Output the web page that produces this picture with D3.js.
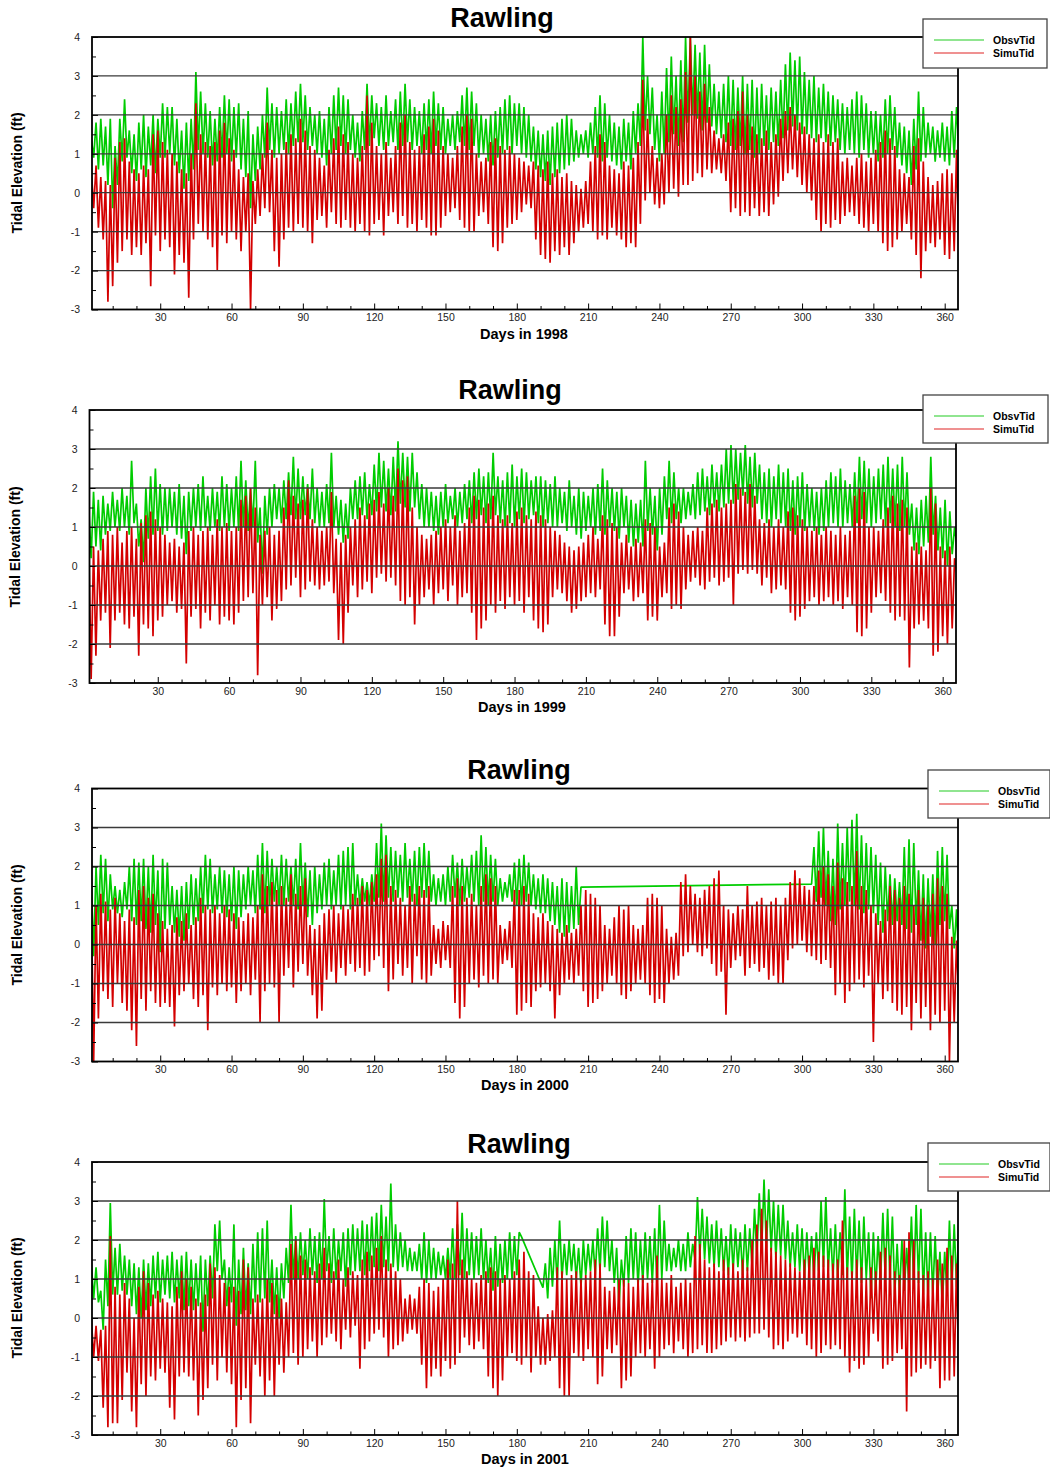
<!DOCTYPE html>
<html>
<head>
<meta charset="utf-8">
<script src="https://cdn.jsdelivr.net/npm/d3@7"></script>
<style>
  body { margin: 0; background: #fff; }
  svg { display: block; }
  text { font-family: "Liberation Sans", Arial, Helvetica, sans-serif; }
</style>
</head>
<body>
<svg id="chart" width="1050" height="1470"></svg>
<script>
// Daily tidal elevation (ft) at Rawling, observed vs simulated.
// Each array holds one reading per day, starting at day 1 unless noted.

const seriesNames = ["ObsvTid", "SimuTid"];
const yTicks = [-3, -2, -1, 0, 1, 2, 3, 4];
const gridValues = [-2, -1, 0, 1, 2, 3];
const xTicks = [30, 60, 90, 120, 150, 180, 210, 240, 270, 300, 330, 360];
const xMinor = [10, 20, 40, 50, 70, 80, 100, 110, 130, 140, 160, 170, 190, 200, 220, 230, 250, 260, 280, 290, 310, 320, 340, 350];
const years = ["1998", "1999", "2000", "2001"];

const obs1998 = [
  1.4,0.9,1.8,0.6,1.9,0.7,1.7,0.2,1.9,-0.4,
  1.2,0.2,1.9,0.8,2.4,0.9,1.6,0.5,1.5,0.3,
  1.8,0.6,2.0,0.4,1.7,0.7,2.0,0.5,1.9,0.9,
  2.3,0.9,2.2,1.0,2.2,0.7,1.9,0.5,1.6,0.1,
  1.8,0.3,1.9,0.6,3.1,1.1,2.6,1.0,2.3,0.9,
  2.1,0.7,1.9,0.8,2.2,0.9,2.5,1.0,2.4,0.8,
  2.2,0.9,2.3,0.6,1.9,0.4,2.1,-0.4,1.5,0.3,
  1.7,0.6,2.0,0.9,2.7,1.1,2.3,0.9,2.2,1.0,
  2.1,1.1,2.4,1.0,2.3,1.2,2.6,1.3,2.8,1.3,
  2.5,1.1,2.2,1.2,2.0,1.0,2.1,0.9,1.9,0.7,
  2.2,1.0,2.5,1.1,2.7,1.2,2.5,1.0,2.4,1.1,
  2.0,0.9,1.8,0.8,2.1,1.1,2.8,1.2,2.5,1.4,
  2.3,1.2,2.2,1.1,2.5,1.2,2.1,1.3,2.4,1.1,
  2.6,1.2,2.8,1.3,2.4,1.1,2.2,1.2,2.1,1.0,
  2.3,1.1,2.4,1.0,2.6,1.2,2.3,1.1,2.2,1.0,
  1.9,1.2,2.0,1.1,2.1,1.3,2.5,1.2,2.7,1.1,
  2.6,1.2,2.3,0.9,2.0,1.0,1.9,0.8,2.0,0.7,
  2.1,0.9,2.2,1.0,2.4,1.1,2.5,1.0,2.3,1.2,
  2.3,1.0,2.2,0.9,2.0,0.8,1.7,0.6,1.6,0.4,
  1.5,0.3,1.6,0.2,1.7,0.4,1.8,0.5,1.9,0.6,
  2.0,0.7,1.9,0.8,1.6,0.9,1.5,1.0,1.6,0.9,
  1.8,1.0,2.2,0.9,2.5,0.8,2.3,0.9,2.0,0.8,
  1.8,0.7,1.7,0.6,1.9,0.8,1.8,0.6,2.1,1.0,
  2.3,1.2,4.0,1.6,3.0,1.5,2.7,1.1,2.0,0.8,
  2.6,1.0,3.2,1.3,3.5,1.5,3.0,1.2,3.4,1.3,
  4.0,1.8,4.0,2.0,3.8,1.9,3.6,1.6,3.8,1.8,
  3.3,1.7,2.8,1.5,2.6,1.4,2.8,1.3,3.0,1.2,
  2.9,1.1,2.7,1.2,3.0,1.0,2.8,1.1,2.9,0.9,
  2.7,1.0,2.8,1.2,2.5,1.1,2.7,1.3,2.6,1.2,
  2.9,1.4,3.3,1.6,3.6,1.7,3.4,1.6,3.5,1.5,
  3.1,1.5,2.9,1.4,3.0,1.3,2.7,1.4,2.8,1.3,
  2.6,1.2,2.5,1.3,2.4,1.1,2.3,1.0,2.2,1.1,
  2.4,1.0,2.6,0.9,2.5,1.1,2.3,0.9,2.1,1.0,
  2.1,0.8,2.0,0.9,2.4,1.0,2.5,1.1,2.2,0.9,
  1.8,0.7,1.7,0.5,1.6,0.2,1.9,0.6,2.6,0.8,
  2.2,0.9,1.8,1.0,1.7,0.8,1.6,0.9,1.8,0.8,
  1.7,0.7,2.1,0.9,2.2,1.1
];

const sim1998 = [
  0.6,-0.4,0.7,-0.9,0.4,-1.2,0.3,-2.8,0.2,-2.4,
  0.9,-1.8,1.3,-1.5,1.4,-1.2,0.8,-1.6,0.6,-1.4,
  0.5,-1.6,0.7,-1.3,0.6,-2.4,1.5,-1.1,1.6,-1.5,
  1.3,-1.2,1.1,-1.4,1.0,-2.1,0.8,-1.6,0.6,-1.8,
  0.5,-2.7,1.0,-1.2,2.3,-0.8,1.5,-1.0,1.3,-1.2,
  1.2,-1.4,1.3,-2.0,1.6,-1.1,1.8,-1.3,1.4,-1.0,
  1.1,-1.2,0.6,-1.5,0.4,-1.0,0.5,-3.0,0.3,-0.8,
  0.6,-0.6,1.0,-0.4,1.8,-0.5,1.1,-1.5,0.9,-1.9,
  1.0,-1.2,1.3,-0.9,1.5,-1.0,1.4,-0.8,1.9,-0.9,
  1.6,-1.0,1.2,-1.3,1.1,-0.7,0.9,-0.6,0.7,-0.9,
  1.1,-0.5,1.4,-0.8,1.7,-0.9,1.5,-0.7,1.3,-0.9,
  1.0,-1.0,0.9,-0.8,1.2,-1.0,2.5,-1.1,1.8,-0.8,
  1.2,-0.7,1.0,-1.1,1.3,-0.6,0.9,-0.5,1.2,-0.8,
  1.8,-0.6,2.0,-0.9,1.3,-0.8,1.1,-1.0,1.2,-0.7,
  1.5,-0.9,1.7,-1.1,1.9,-1.1,1.6,-0.9,1.2,-0.6,
  1.0,-0.5,0.9,-0.4,1.2,-0.7,1.7,-0.9,2.0,-1.0,
  1.9,-1.0,1.0,-0.6,0.8,-0.5,0.9,-0.8,1.3,-1.4,
  1.4,-1.5,1.2,-1.3,1.1,-0.9,1.2,-0.8,1.0,-0.7,
  0.9,-0.5,0.8,-0.3,0.7,-0.4,0.8,-1.2,0.7,-1.6,
  0.6,-1.7,0.8,-1.8,0.5,-1.5,0.6,-1.6,0.4,-1.4,
  0.5,-1.6,0.3,-1.3,0.2,-1.0,0.1,-0.9,0.3,-0.8,
  0.8,-1.0,1.2,-1.2,1.5,-1.1,1.3,-1.2,0.7,-0.9,
  0.6,-1.1,0.5,-1.2,0.8,-1.4,0.7,-1.3,0.9,-1.4,
  1.3,-0.8,2.9,-0.2,1.9,0.0,1.2,-0.3,0.9,-0.4,
  1.0,-0.3,2.0,0.0,2.5,0.1,2.2,-0.1,2.4,0.2,
  3.1,0.2,4.0,0.3,3.0,0.5,2.6,0.4,2.8,0.6,
  2.2,0.5,1.6,0.6,1.4,0.5,1.5,0.3,1.8,-0.5,
  1.9,-0.4,2.1,-0.6,2.6,-0.5,2.0,-0.6,1.7,-0.4,
  1.5,-0.6,1.4,-0.5,1.6,-0.6,1.3,-0.3,1.5,-0.1,
  1.9,0.3,2.1,0.5,2.2,0.6,2.0,0.4,1.8,0.2,
  1.7,0.0,1.5,-0.2,1.4,-0.7,1.5,-1.0,1.3,-0.8,
  1.5,-0.9,1.3,-0.7,1.4,-0.8,0.8,-0.6,0.9,-0.5,
  0.7,-0.6,0.9,-0.8,1.0,-0.9,0.8,-1.0,0.9,-0.8,
  1.1,-1.0,1.3,-1.3,1.6,-1.5,1.4,-1.4,1.2,-1.2,
  0.6,-1.0,0.5,-0.8,0.4,-1.2,1.2,-1.6,1.4,-2.2,
  0.8,-1.5,0.4,-1.3,0.2,-1.4,0.3,-1.2,0.5,-1.6,
  0.6,-1.7,0.5,-1.5,1.1,-1.6
];

const obs1999 = [
  1.5,0.2,1.9,0.5,1.7,0.4,1.8,0.8,1.6,0.9,
  1.9,1.0,1.7,0.9,2.0,1.0,1.8,0.8,2.7,1.1,
  1.6,0.5,1.2,0.1,2.0,0.7,2.3,0.8,2.5,0.9,
  2.1,0.8,2.0,0.9,2.0,1.0,1.9,0.8,2.1,0.7,
  1.8,0.3,1.9,0.9,2.0,1.0,2.1,0.9,2.3,1.0,
  1.8,0.9,2.0,1.0,1.9,0.9,2.3,1.0,2.1,0.9,
  2.0,1.0,2.3,0.9,2.7,1.0,2.2,0.9,2.0,1.0,
  2.7,0.6,1.5,-0.2,1.8,0.8,2.0,1.0,2.1,1.2,
  2.0,1.1,2.2,1.2,2.4,1.3,2.8,1.2,2.5,1.2,
  2.3,1.3,2.1,1.2,2.5,1.1,2.0,1.0,1.9,1.0,
  2.1,1.1,2.9,1.0,1.8,0.8,1.7,0.6,1.6,0.7,
  2.0,1.2,2.2,1.2,2.3,1.3,2.4,1.2,2.1,1.3,
  2.6,1.4,2.9,1.5,2.7,1.4,2.5,1.3,2.8,1.4,
  3.2,1.6,2.9,1.5,2.8,1.4,2.9,1.5,2.4,1.2,
  2.1,1.0,2.0,1.0,1.9,0.9,1.8,0.8,1.9,1.0,
  2.1,1.1,1.8,1.2,2.0,1.0,1.9,1.1,2.1,1.2,
  2.2,1.1,2.4,1.2,2.5,1.3,2.3,1.1,2.4,1.2,
  2.9,1.3,2.3,1.1,2.2,1.0,2.4,1.1,2.6,1.0,
  2.3,1.2,2.5,1.1,2.4,1.2,2.2,1.3,2.3,1.1,
  2.3,1.0,2.2,1.1,2.1,1.0,2.3,1.0,2.0,1.1,
  1.9,0.9,2.2,1.0,1.8,0.8,2.0,0.7,1.9,0.9,
  1.8,1.0,2.0,0.8,2.1,0.9,2.5,0.8,2.2,1.0,
  2.0,0.9,1.9,0.7,2.0,1.0,1.8,0.6,1.7,0.5,
  1.6,0.6,1.7,0.5,2.7,0.9,2.0,0.8,1.8,0.4,
  2.0,0.8,2.3,1.2,2.7,1.1,2.4,1.2,2.0,1.1,
  2.0,1.2,1.9,1.3,2.1,1.2,2.4,1.3,2.5,1.4,
  2.3,1.3,2.6,1.5,2.4,1.4,2.6,1.5,3.0,1.6,
  3.1,1.6,3.0,1.7,2.9,1.8,3.1,1.6,2.8,1.5,
  2.9,1.6,2.6,1.2,2.4,1.1,2.5,1.0,2.3,1.2,
  2.6,1.1,2.4,1.0,2.5,0.9,2.2,0.8,2.3,1.0,
  2.4,0.9,2.1,1.0,2.0,0.9,1.9,0.8,2.0,0.9,
  2.2,1.0,2.4,1.1,2.3,1.0,2.5,1.0,2.2,1.1,
  2.1,1.0,2.4,1.1,2.8,1.2,2.7,1.1,2.5,1.0,
  2.3,1.1,2.5,1.2,2.6,1.0,2.8,1.1,2.5,1.0,
  2.6,0.9,2.8,1.0,2.4,0.8,1.6,0.4,1.5,0.3,
  1.7,0.5,1.8,0.6,2.8,0.8,1.8,0.4,1.5,0.2,
  1.7,0.0,1.4,0.3,1.0,0.5
];

const sim1999 = [
  0.6,-2.9,0.5,-2.3,0.4,-1.4,0.7,-1.2,0.9,-2.1,
  0.8,-1.4,1.0,-1.2,0.6,-1.5,0.9,-1.6,1.0,-1.3,
  0.7,-2.3,1.1,-1.5,1.3,-1.6,1.4,-1.8,1.2,-1.4,
  1.0,-1.3,0.8,-1.0,0.6,-0.9,0.7,-1.2,0.5,-1.1,
  0.6,-2.5,0.9,-1.3,1.0,-1.1,0.8,-1.6,0.9,-1.2,
  1.0,-1.4,0.8,-1.0,1.2,-1.5,1.0,-1.3,1.1,-1.4,
  0.9,-1.5,1.0,-1.2,1.7,-0.9,1.8,-0.8,2.0,-0.7,
  1.5,-2.8,0.8,-1.0,0.9,-0.8,1.0,-1.4,0.8,-1.1,
  0.9,-0.9,1.5,-0.6,2.2,-0.5,1.8,-0.3,1.6,-0.8,
  1.7,-0.6,2.0,-0.4,1.2,-0.5,1.0,-0.6,0.9,-0.5,
  1.0,-0.4,1.9,-0.7,0.7,-1.9,0.6,-2.0,0.8,-1.2,
  1.0,-0.5,1.2,-0.8,1.5,-0.6,1.3,-0.4,1.6,-0.7,
  1.7,-0.3,1.9,-0.2,1.6,-0.4,2.0,-0.3,1.8,-0.5,
  2.5,-0.9,2.2,-1.0,2.3,-0.8,1.5,-1.5,1.0,-1.0,
  0.8,-0.8,0.7,-0.6,0.8,-1.0,0.9,-0.7,1.0,-0.6,
  1.2,-0.9,1.0,-0.5,1.3,-1.0,0.9,-0.8,1.1,-0.7,
  1.5,-1.2,1.8,-1.9,1.7,-1.6,1.5,-1.4,1.6,-1.0,
  1.8,-1.2,1.3,-0.9,1.2,-1.1,1.3,-0.8,1.1,-1.0,
  1.4,-0.9,1.5,-1.2,1.3,-0.8,1.2,-1.4,1.4,-1.6,
  1.3,-1.7,1.2,-1.5,1.0,-0.8,0.9,-0.6,0.8,-0.7,
  0.6,-0.9,0.5,-1.2,0.4,-1.1,0.5,-0.9,0.6,-0.8,
  0.8,-0.7,1.0,-0.8,0.7,-0.6,1.3,-1.5,1.2,-1.8,
  1.1,-1.8,1.0,-1.3,0.6,-0.7,0.8,-0.6,0.5,-0.9,
  0.7,-0.8,0.6,-0.7,1.2,-1.4,1.1,-1.3,1.0,-1.4,
  0.5,-0.8,0.6,-0.7,1.5,-1.1,1.6,-1.0,1.4,-1.1,
  1.0,-0.6,0.8,-0.4,0.9,-0.3,1.0,-0.5,0.9,-0.6,
  1.5,-0.4,1.6,-0.3,1.7,-0.5,1.5,-0.4,1.6,-0.3,
  1.7,-1.0,2.1,-0.2,2.0,-0.1,1.9,-0.2,2.1,-0.1,
  1.8,-0.2,1.2,-0.5,1.1,-0.3,1.2,-0.7,1.0,-0.6,
  1.2,-0.5,1.0,-0.6,1.4,-1.2,1.5,-1.4,1.3,-1.3,
  1.2,-1.1,1.0,-0.9,0.9,-0.8,1.0,-1.0,0.8,-0.9,
  1.0,-0.8,0.9,-1.0,0.8,-0.9,1.0,-1.1,0.8,-0.8,
  0.9,-1.0,1.8,-1.7,2.0,-1.8,1.9,-1.6,1.0,-1.2,
  1.0,-0.8,0.9,-0.7,1.2,-0.9,1.5,-1.2,1.8,-1.4,
  1.6,-1.3,1.7,-1.4,1.5,-2.6,0.5,-1.6,0.6,-1.5,
  0.5,-1.4,0.4,-1.6,2.0,-2.3,1.6,-2.2,0.5,-1.8,
  0.4,-2.0,0.5,-1.6,0.2,-0.2
];

// Observed 2000: record stops after day 207 and resumes on day 304
const obs2000 = [
  1.7,-0.3,2.0,0.5,2.3,0.8,2.2,0.6,1.8,0.9,
  1.5,0.8,1.4,0.7,1.6,0.9,2.0,0.6,2.2,0.5,
  2.1,0.6,2.2,0.4,2.0,0.3,2.3,0.5,1.9,-0.2,
  2.2,0.4,2.1,0.5,1.5,0.3,1.4,0.2,1.5,0.1,
  1.6,0.4,1.8,0.5,1.7,0.6,2.0,0.8,2.3,0.9,
  2.2,0.8,1.8,0.9,2.0,0.8,1.9,0.7,1.8,0.6,
  2.0,0.4,1.9,0.7,1.8,0.9,2.0,1.0,1.9,0.8,
  2.3,0.9,2.6,0.8,2.4,1.0,2.2,1.1,2.0,1.0,
  2.3,1.0,2.2,1.1,2.0,1.0,2.2,0.9,2.6,1.0,
  2.1,0.7,1.9,0.5,2.0,0.8,1.8,0.9,2.1,1.0,
  2.2,0.9,1.9,1.0,2.3,0.9,2.4,1.0,2.5,0.9,
  2.6,1.0,1.8,1.0,1.7,1.1,1.6,1.0,1.8,1.1,
  2.6,1.2,3.1,1.1,2.8,1.2,2.5,1.1,2.4,1.2,
  2.3,1.1,2.6,1.2,2.2,1.1,2.4,1.0,2.5,1.2,
  2.6,1.2,2.4,1.1,1.8,1.0,1.7,1.1,1.8,1.0,
  2.0,1.1,2.3,1.2,2.1,1.0,2.2,1.1,2.0,1.2,
  2.3,1.1,2.4,1.0,2.8,1.1,2.5,1.0,2.3,1.1,
  2.2,1.0,1.7,1.1,1.6,1.2,1.8,1.1,2.1,1.0,
  2.2,1.0,2.3,1.1,2.1,1.0,1.8,0.9,1.7,0.8,
  1.8,0.8,1.7,0.6,1.6,0.5,1.5,0.3,1.7,0.2,
  1.6,0.3,1.5,0.4,2.0,0.5,1.47
];
const obs2000Late = [
  1.55,2.5,1.1,2.9,1.2,3.0,1.0,
  2.4,0.6,2.2,0.5,3.1,0.9,2.6,1.0,3.0,1.1,
  3.2,1.0,3.35,0.9,2.8,0.8,2.6,0.9,2.5,0.8,
  2.3,0.5,2.1,0.3,2.0,0.6,1.8,0.5,1.7,0.6,
  1.6,0.5,2.5,0.4,2.7,0.3,2.6,0.5,1.9,0.1,
  1.8,-0.1,1.7,0.2,1.8,0.0,2.4,0.5,2.5,0.6,
  2.3,0.4,1.0,-0.1,0.9,-0.5
];
const obs2000LateStart = 304;

const sim2000 = [
  1.2,-3.0,1.0,-1.9,1.3,-1.2,1.1,-1.4,0.9,-1.6,
  1.2,-1.0,0.8,-1.5,0.6,-1.7,0.9,-2.2,0.7,-2.6,
  1.4,-1.4,1.5,-1.7,1.2,-1.2,1.3,-1.5,0.8,-1.6,
  0.6,-1.5,0.4,-1.6,0.5,-2.1,0.7,-1.3,0.6,-1.2,
  0.8,-1.0,0.5,-1.4,0.7,-1.6,1.2,-1.3,1.0,-2.2,
  0.9,-1.1,1.0,-1.3,0.8,-1.0,1.0,-1.2,0.9,-1.1,
  0.8,-1.5,0.7,-1.2,0.6,-1.0,0.8,-1.3,0.7,-0.9,
  1.0,-2.0,1.8,-1.2,1.5,-1.0,1.6,-1.1,1.4,-2.0,
  1.5,-0.8,1.2,-0.6,1.8,-1.1,1.3,-0.7,1.5,-0.5,
  1.7,-0.8,0.5,-1.3,0.4,-1.9,0.5,-1.7,0.8,-0.9,
  0.9,-0.7,1.0,-1.0,0.8,-0.6,1.0,-0.8,0.9,-0.5,
  1.3,-0.7,1.2,-0.6,1.5,-0.8,1.4,-0.7,1.6,-0.4,
  1.8,-0.3,2.2,-0.6,2.3,-1.2,1.5,-0.9,1.4,-0.5,
  1.2,-0.8,1.0,-0.6,1.5,-1.0,1.3,-0.3,1.5,-0.9,
  1.4,-1.0,1.5,-0.8,0.5,-0.5,0.4,-0.6,0.6,-0.4,
  0.5,-0.6,1.5,-1.5,1.7,-1.9,1.5,-1.6,1.2,-1.0,
  1.3,-0.9,1.0,-1.1,1.5,-0.8,1.8,-1.0,1.7,-0.9,
  1.5,-1.0,0.5,-0.5,0.4,-0.4,0.6,-0.6,1.4,-1.8,
  1.4,-1.7,1.5,-1.5,1.3,-1.6,0.8,-1.2,0.7,-1.1,
  0.8,-1.0,0.6,-1.2,0.5,-1.9,0.4,-1.3,0.3,-1.0,
  0.5,-0.9,0.3,-1.0,0.4,-0.8,1.0,-1.2,1.4,-1.6,
  1.3,-1.5,1.2,-1.4,1.0,-1.2,0.5,-1.0,0.4,-0.8,
  0.7,-1.0,1.0,-1.3,0.9,-1.4,1.0,-1.2,0.5,-1.0,
  0.4,-0.9,0.5,-1.0,1.2,-1.3,1.3,-1.5,1.2,-1.4,
  1.0,-1.5,0.4,-1.0,0.2,-0.9,0.3,-0.8,1.6,-0.3,
  1.8,-0.2,1.5,0.0,1.3,-0.2,1.2,-0.3,1.4,-0.1,
  1.5,-0.5,1.7,-0.8,1.9,-0.7,1.0,-1.8,0.9,-0.6,
  0.8,-0.4,1.0,-0.3,0.9,-0.8,1.5,-0.6,1.0,-0.5,
  1.1,-0.7,1.2,-0.6,1.0,-0.9,1.1,-0.8,1.2,-1.0,
  1.0,-1.0,1.2,-0.4,1.6,-0.1,1.9,0.0,1.7,0.1,
  1.5,-0.2,1.4,-0.3,1.5,-0.4,1.9,-0.5,2.0,-0.4,
  1.8,-0.6,1.5,-1.3,2.1,-1.0,1.7,-1.5,1.6,-1.2,
  1.5,-1.0,2.4,-0.9,1.5,-1.1,1.4,-0.8,1.0,-2.5,
  0.8,-1.0,0.6,-1.4,0.9,-1.2,1.5,-1.5,1.4,-1.7,
  1.2,-1.8,1.5,-1.6,1.3,-2.2,1.0,-1.5,1.4,-1.9,
  1.2,-1.6,1.0,-2.2,1.3,-1.8,1.7,-2.0,1.5,-1.7,
  1.3,-3.0,0.2,-2.0,0.1,-1.6
];

// Observed 2001: record stops after day 182 and resumes on day 191
const obs2001 = [
  1.4,0.5,1.3,0.4,0.7,-0.3,1.5,0.3,2.95,0.6,
  1.8,0.6,1.9,0.7,1.6,0.6,1.5,0.3,1.4,0.1,
  1.3,0.0,1.5,0.2,1.4,0.3,1.6,0.5,1.7,0.4,
  1.5,0.6,1.6,0.5,1.7,0.4,1.5,0.5,1.6,0.2,
  1.7,0.3,1.5,0.2,1.4,0.3,1.6,-0.35,1.5,0.3,
  1.6,0.5,2.4,1.2,2.5,1.0,1.5,0.3,1.3,0.4,
  2.4,-0.2,1.5,0.1,1.8,0.2,1.4,0.1,1.9,0.4,
  2.2,0.4,2.3,0.5,2.5,0.4,1.5,0.1,1.3,0.0,
  1.4,0.5,1.8,0.9,2.9,1.0,2.1,1.0,2.2,1.1,
  2.0,1.0,2.3,1.1,2.1,0.9,2.2,1.0,3.05,1.2,
  2.1,0.9,2.3,1.0,2.0,1.2,2.2,0.8,2.3,1.1,
  2.4,1.2,2.3,1.2,2.5,1.1,2.4,1.2,2.6,1.3,
  2.7,1.2,2.9,1.3,2.6,1.2,3.45,1.3,2.4,1.2,
  2.2,1.3,2.0,1.2,1.8,1.2,1.7,1.2,1.9,1.0,
  2.2,0.9,2.0,1.0,1.8,1.0,1.7,1.1,1.6,1.0,
  1.8,1.0,2.3,1.0,2.4,1.1,2.7,1.0,2.3,1.1,
  2.2,1.0,2.1,1.1,2.3,1.0,2.0,0.9,1.8,0.7,
  2.1,0.8,1.9,0.9,2.0,1.0,2.2,1.0,2.1,1.1,
  2.2,2.08
];
const obs2001Late = [
  0.78,1.4,0.5,1.8,0.8,2.0,0.9,2.5,1.0,1.9,
  1.1,2.0,1.2,1.9,1.0,1.8,0.8,2.0,1.1,1.9,
  1.2,2.0,1.1,2.3,1.2,2.6,1.3,2.5,1.2,2.0,
  0.9,1.8,0.3,1.5,0.8,2.1,0.9,2.3,1.0,2.2,
  0.8,2.0,0.9,2.2,1.0,2.1,0.9,2.3,0.8,2.9,
  1.0,2.5,1.2,1.9,1.2,1.8,1.3,2.0,1.2,1.9,
  1.2,2.2,1.3,1.9,1.5,3.1,1.6,2.8,1.5,2.6,
  1.4,2.4,1.3,2.5,1.3,2.3,1.2,2.1,1.1,2.4,
  1.2,2.3,1.3,2.2,1.1,2.4,1.2,2.3,1.3,2.8,
  1.6,3.2,1.7,3.55,1.8,3.3,1.7,3.0,1.5,2.9,
  1.6,2.9,1.5,2.5,1.3,2.2,1.3,2.4,1.2,2.3,
  1.0,2.2,1.1,2.1,1.0,2.2,1.2,3.0,1.3,3.1,
  1.2,2.3,1.0,2.4,1.0,2.2,1.1,3.3,1.0,2.6,
  0.9,2.8,1.0,2.5,0.9,2.6,1.0,2.2,0.5,2.2,
  0.7,2.1,0.9,2.7,1.0,2.8,0.9,2.6,0.6,1.9,
  0.6,2.0,0.7,1.8,0.8,2.6,0.8,2.9,0.9,2.8,
  0.6,2.2,0.5,2.2,0.6,2.1,0.5,1.7,0.3,1.7,
  0.6,2.5,0.7,2.4,0.8,2.5
];
const obs2001LateStart = 191;

const sim2001 = [
  0.0,-1.0,-0.2,-1.1,-0.3,-2.3,-0.2,-2.8,2.1,-2.7,
  0.8,-2.7,0.6,-2.1,0.9,-1.4,0.5,-2.4,0.0,-2.8,
  0.8,-1.7,1.2,-2.0,0.9,-1.5,0.6,-1.6,0.7,-1.3,
  0.5,-1.4,0.4,-2.3,0.3,-2.6,0.8,-1.5,1.2,-1.4,
  1.0,-1.5,0.8,-1.6,0.5,-2.5,0.4,-2.1,0.6,-1.8,
  1.4,-1.2,1.3,-1.6,1.1,-1.0,0.9,-1.4,0.8,-1.7,
  0.8,-2.8,0.7,-2.1,1.5,-1.8,1.3,-2.7,0.5,-1.2,
  0.6,-1.5,0.5,-2.0,1.0,-1.6,0.9,-2.0,0.6,-1.2,
  0.5,-1.4,0.4,-1.0,1.9,-0.9,2.0,-1.2,1.6,-1.0,
  1.5,-0.8,1.3,-0.6,1.2,-1.0,1.4,-0.7,1.8,-0.5,
  1.4,-0.4,1.2,-0.6,1.5,-0.8,1.0,-0.3,1.3,-0.5,
  1.2,-0.2,1.1,-1.3,1.5,-0.8,1.7,-0.6,1.6,-0.4,
  1.8,-0.3,2.1,-0.5,1.5,-1.0,1.4,-0.8,1.2,-0.7,
  1.0,-0.6,0.5,-0.4,0.6,-0.3,0.5,-0.4,0.8,-1.2,
  1.0,-1.8,0.9,-1.5,0.7,-1.3,0.8,-1.5,1.0,-1.1,
  1.5,-1.3,1.4,-1.2,3.0,-0.9,1.5,-0.5,1.2,-0.7,
  1.0,-0.8,0.9,-0.6,1.1,-0.8,1.2,-1.5,1.3,-1.8,
  1.2,-2.0,1.0,-1.6,1.1,-1.0,1.0,-0.9,1.2,-1.1,
  1.5,-1.2,1.7,-1.0,1.2,-1.4,1.1,-1.0,0.3,-1.2,
  0.0,-1.2,0.1,-1.1,0.2,-1.0,1.3,-1.8,1.2,-2.0,
  1.0,-2.0,1.1,-0.9,1.2,-1.0,1.0,-1.1,1.1,-0.8,
  1.2,-1.0,1.5,-1.7,1.4,-1.5,0.8,-0.8,0.7,-0.9,
  0.8,-0.7,1.0,-1.8,1.0,-1.6,0.9,-1.5,0.8,-1.0,
  1.0,-0.9,1.1,-1.0,0.9,-0.8,1.0,-1.3,1.6,-1.0,
  1.0,-0.8,0.9,-0.7,1.1,-0.9,0.8,-0.6,0.9,-0.8,
  1.0,-1.0,0.9,-0.9,2.1,-0.8,1.9,-0.7,1.5,-0.9,
  1.3,-0.9,1.4,-0.8,1.2,-0.7,1.5,-0.6,1.3,-0.5,
  1.4,-0.6,1.2,-0.5,1.5,-0.6,1.3,-0.5,2.0,-0.4,
  2.4,-0.4,2.8,-0.3,2.5,-0.5,1.8,-0.8,1.7,-0.7,
  1.6,-0.8,1.5,-0.6,1.4,-0.4,1.3,-0.5,1.2,-0.4,
  1.5,-0.7,1.6,-0.8,1.8,-1.0,1.7,-0.9,1.6,-0.7,
  1.5,-0.8,1.4,-0.7,1.5,-0.8,2.5,-1.0,1.3,-1.4,
  1.2,-1.1,1.5,-1.3,1.3,-1.2,1.0,-1.0,1.3,-0.4,
  1.2,-0.6,1.7,-1.3,1.8,-1.2,1.6,-1.1,1.2,-0.9,
  1.1,-0.8,2.0,-2.4,2.2,-1.5,2.0,-1.4,1.2,-1.3,
  1.1,-1.2,1.2,-1.3,1.0,-1.1,1.5,-1.8,1.4,-1.6,
  1.8,-1.6,1.6,-1.5,1.4,-1.7
];

// ---- drawing ----
const GREEN = "#00cc00";
const RED = "#d40000";
const xDomain = [1.3, 365.6];

// A series is a list of runs {start, values}; runs are joined into one line.
function toPoints(runs) {
  const pts = [];
  runs.forEach(r => r.values.forEach((v, i) => pts.push([r.start + i, v])));
  return pts;
}

const panels = [
  { year: years[0],
    obs: [{ start: 1, values: obs1998 }],
    sim: [{ start: 1, values: sim1998 }],
    left: 92, right: 958, top: 37, bottom: 309.5,
    title: [502, 27], xlab: [524, 339], ylab: [22, 173],
    legend: { x: 923, y: 19, w: 124, h: 49 } },
  { year: years[1],
    obs: [{ start: 1, values: obs1999 }],
    sim: [{ start: 1, values: sim1999 }],
    left: 89.5, right: 956, top: 410, bottom: 683,
    title: [510, 399], xlab: [522, 712], ylab: [20, 547],
    legend: { x: 923, y: 395, w: 125, h: 48 } },
  { year: years[2],
    obs: [{ start: 1, values: obs2000 }, { start: obs2000LateStart, values: obs2000Late }],
    sim: [{ start: 1, values: sim2000 }],
    left: 92, right: 958, top: 788.5, bottom: 1061.5,
    title: [519, 779], xlab: [525, 1090], ylab: [22, 925],
    legend: { x: 928, y: 770, w: 122, h: 48 } },
  { year: years[3],
    obs: [{ start: 1, values: obs2001 }, { start: obs2001LateStart, values: obs2001Late }],
    sim: [{ start: 1, values: sim2001 }],
    left: 92, right: 958, top: 1162, bottom: 1435,
    title: [519, 1153], xlab: [525, 1464], ylab: [22, 1298],
    legend: { x: 928, y: 1143, w: 122, h: 48 } }
];

const tickText = d => String(d);   // plain hyphen for negatives

const svg = d3.select("#chart");
svg.append("rect").attr("width", 1050).attr("height", 1470).attr("fill", "#fff");

panels.forEach((p, i) => {
  const x = d3.scaleLinear().domain(xDomain).range([p.left, p.right]);
  const y = d3.scaleLinear().domain([-3, 4]).range([p.bottom, p.top]);
  const g = svg.append("g").attr("class", "panel");

  const clipId = "plot-clip-" + i;
  svg.append("clipPath").attr("id", clipId)
    .append("rect")
    .attr("x", p.left).attr("y", p.top)
    .attr("width", p.right - p.left).attr("height", p.bottom - p.top);

  const line = d3.line().x(d => x(d[0])).y(d => y(d[1]));

  const plot = g.append("g").attr("clip-path", `url(#${clipId})`);
  plot.append("path").datum(toPoints(p.obs))
    .attr("d", line).attr("fill", "none")
    .attr("stroke", GREEN).attr("stroke-width", 1.7).attr("stroke-linejoin", "bevel");
  plot.append("path").datum(toPoints(p.sim))
    .attr("d", line).attr("fill", "none")
    .attr("stroke", RED).attr("stroke-width", 1.7).attr("stroke-linejoin", "bevel");

  // horizontal grid lines at whole feet
  g.append("g").selectAll("line").data(gridValues).join("line")
    .attr("x1", p.left).attr("x2", p.right)
    .attr("y1", d => y(d)).attr("y2", d => y(d))
    .attr("stroke", "#3a3a3a").attr("stroke-width", 1.3);

  // x axis: major and minor ticks pointing into the plot
  const xAxis = g.append("g").attr("transform", `translate(0,${p.bottom})`)
    .call(d3.axisBottom(x).tickValues(xTicks).tickSize(-6).tickPadding(4.5).tickFormat(tickText));
  xAxis.select(".domain").remove();
  xAxis.selectAll("text").attr("font-size", 10.5).attr("fill", "#222")
    .attr("font-family", "'Liberation Sans', Arial, sans-serif");
  xAxis.selectAll("line").attr("stroke", "#000");

  const xMin = g.append("g").attr("transform", `translate(0,${p.bottom})`)
    .call(d3.axisBottom(x).tickValues(xMinor).tickSize(-3.5).tickFormat(""));
  xMin.select(".domain").remove();
  xMin.selectAll("line").attr("stroke", "#000");

  // y axis: labels left, half-foot minor ticks
  const yAxis = g.append("g").attr("transform", `translate(${p.left},0)`)
    .call(d3.axisLeft(y).tickValues(yTicks).tickSize(-6).tickPadding(12).tickFormat(tickText));
  yAxis.select(".domain").remove();
  yAxis.selectAll("text").attr("font-size", 10.5).attr("fill", "#222")
    .attr("font-family", "'Liberation Sans', Arial, sans-serif");
  yAxis.selectAll("line").attr("stroke", "#000");

  const yMinorVals = [-2.5, -1.5, -0.5, 0.5, 1.5, 2.5, 3.5];
  const yMin = g.append("g").attr("transform", `translate(${p.left},0)`)
    .call(d3.axisLeft(y).tickValues(yMinorVals).tickSize(-4).tickFormat(""));
  yMin.select(".domain").remove();
  yMin.selectAll("line").attr("stroke", "#000");

  // plot frame
  g.append("rect")
    .attr("x", p.left).attr("y", p.top)
    .attr("width", p.right - p.left).attr("height", p.bottom - p.top)
    .attr("fill", "none").attr("stroke", "#000").attr("stroke-width", 1.8);

  // titles
  g.append("text").attr("x", p.title[0]).attr("y", p.title[1])
    .attr("text-anchor", "middle").attr("font-size", 27).attr("font-weight", "bold")
    .attr("fill", "#000").text("Rawling");
  g.append("text").attr("x", p.xlab[0]).attr("y", p.xlab[1])
    .attr("text-anchor", "middle").attr("font-size", 14.5).attr("font-weight", "bold")
    .attr("fill", "#000").text("Days in " + p.year);
  g.append("text")
    .attr("transform", `translate(${p.ylab[0]},${p.ylab[1]}) rotate(-90)`)
    .attr("text-anchor", "middle").attr("font-size", 14).attr("font-weight", "bold")
    .attr("fill", "#000").text("Tidal Elevation (ft)");

  // legend box over the top-right corner
  const L = p.legend;
  const lg = g.append("g").attr("transform", `translate(${L.x},${L.y})`);
  lg.append("rect").attr("width", L.w).attr("height", L.h)
    .attr("fill", "#fff").attr("stroke", "#444").attr("stroke-width", 1.3);
  const items = [{ name: seriesNames[0], color: "#22cc22" }, { name: seriesNames[1], color: "#e02424" }];
  items.forEach((it, k) => {
    const yy = 21 + k * 13;
    lg.append("line").attr("x1", 11).attr("x2", 61).attr("y1", yy).attr("y2", yy)
      .attr("stroke", it.color).attr("stroke-width", 1.2);
    lg.append("text").attr("x", 70).attr("y", yy + 3.6)
      .attr("font-size", 10.5).attr("font-weight", "bold").attr("fill", "#000").text(it.name);
  });
});
</script>
</body>
</html>
